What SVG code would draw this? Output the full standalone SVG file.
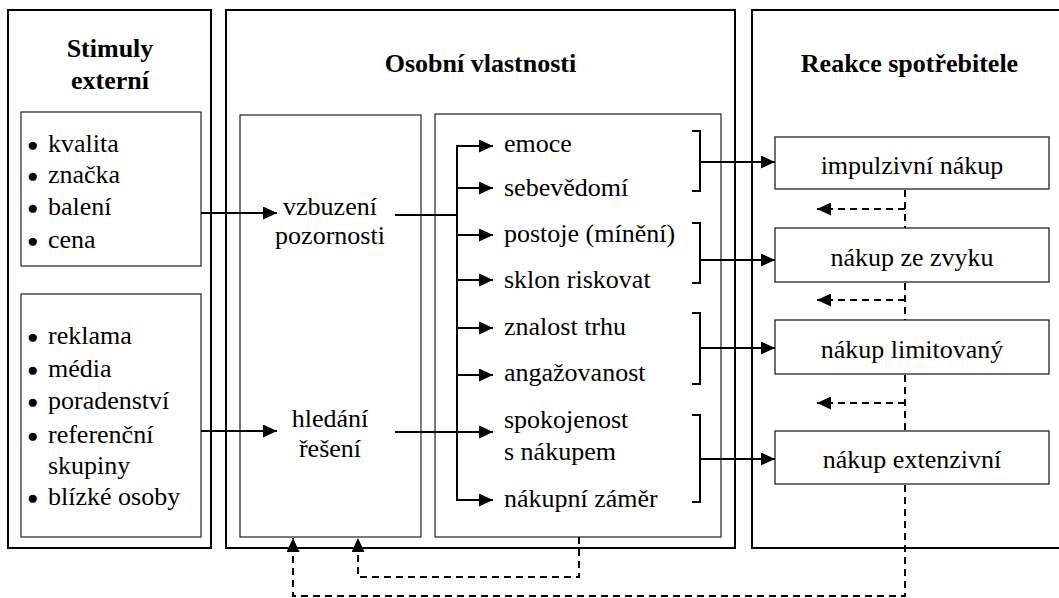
<svg xmlns="http://www.w3.org/2000/svg" width="1059" height="598" viewBox="0 0 1059 598">
  <style>
    text { font-family: 'Liberation Serif', 'Times New Roman', Tinos, 'Noto Serif', 'DejaVu Serif', serif; font-size: 26px; fill: #000; }
    .head { font-weight: bold; text-anchor: middle; }
    .mid { text-anchor: middle; }
    .bul { font-size: 19px; }
    .outer { fill: none; stroke: #000; stroke-width: 2; }
    .inner { fill: none; stroke: #222; stroke-width: 1.2; }
    .resp { fill: #fff; stroke: #222; stroke-width: 1.3; }
    .line { fill: none; stroke: #000; stroke-width: 2; }
    .arrow { fill: none; stroke: #000; stroke-width: 2; marker-end: url(#head); }
    .dash { fill: none; stroke: #000; stroke-width: 2; stroke-dasharray: 7 5; }
    .dash-arrow { fill: none; stroke: #000; stroke-width: 2; stroke-dasharray: 7 5; marker-end: url(#head); }
  </style>
  <defs>
    <marker id="head" markerUnits="userSpaceOnUse" markerWidth="14" markerHeight="13" refX="14" refY="6.5" orient="auto">
      <path d="M0,0 L14,6.5 L0,13 Z" fill="#000" stroke="none"/>
    </marker>
  </defs>
  <rect width="1059" height="598" fill="#fff"/>

  <!-- external stimuli column -->
  <g id="stimuli">
    <rect class="outer" x="8" y="10" width="203" height="538"/>
    <text class="head" x="110" y="57">Stimuly</text>
    <text class="head" x="110" y="89">externí</text>
  </g>
  <g id="stimuli-product">
    <rect class="inner" x="21" y="112" width="180" height="154"/>
    <text x="27" y="152"><tspan class="bul" dy="-1">●</tspan><tspan x="48" dy="1">kvalita</tspan></text>
    <text x="27" y="183"><tspan class="bul" dy="-1">●</tspan><tspan x="48" dy="1">značka</tspan></text>
    <text x="27" y="215"><tspan class="bul" dy="-1">●</tspan><tspan x="48" dy="1">balení</tspan></text>
    <text x="27" y="248"><tspan class="bul" dy="-1">●</tspan><tspan x="48" dy="1">cena</tspan></text>
  </g>
  <g id="stimuli-info">
    <rect class="inner" x="21" y="294" width="180" height="243"/>
    <text x="27" y="344"><tspan class="bul" dy="-1">●</tspan><tspan x="48" dy="1">reklama</tspan></text>
    <text x="27" y="377"><tspan class="bul" dy="-1">●</tspan><tspan x="48" dy="1">média</tspan></text>
    <text x="27" y="409"><tspan class="bul" dy="-1">●</tspan><tspan x="48" dy="1">poradenství</tspan></text>
    <text x="27" y="443"><tspan class="bul" dy="-1">●</tspan><tspan x="48" dy="1">referenční</tspan></text>
    <text x="48" y="474">skupiny</text>
    <text x="27" y="505"><tspan class="bul" dy="-1">●</tspan><tspan x="48" dy="1">blízké osoby</tspan></text>
  </g>

  <!-- personal traits column -->
  <g id="traits">
    <rect class="outer" x="226" y="10" width="509" height="538"/>
    <text class="head" x="480.5" y="72">Osobní vlastnosti</text>
  </g>
  <g id="stages">
    <rect class="inner" x="240" y="115" width="181" height="422"/>
    <text class="mid" x="330" y="215">vzbuzení</text>
    <text class="mid" x="330" y="244">pozornosti</text>
    <text class="mid" x="330" y="427">hledání</text>
    <text class="mid" x="330" y="457">řešení</text>
  </g>
  <g id="factors">
    <rect class="inner" x="435" y="114" width="286" height="423"/>
    <text x="504" y="152">emoce</text>
    <text x="504" y="196">sebevědomí</text>
    <text x="504" y="242">postoje (mínění)</text>
    <text x="504" y="288">sklon riskovat</text>
    <text x="504" y="335">znalost trhu</text>
    <text x="504" y="381">angažovanost</text>
    <text x="504" y="428">spokojenost</text>
    <text x="504" y="460">s nákupem</text>
    <text x="504" y="507">nákupní záměr</text>
  </g>

  <!-- consumer response column -->
  <g id="response">
    <rect class="outer" x="752" y="10" width="315" height="538"/>
    <text class="head" x="909.5" y="72">Reakce spotřebitele</text>
  </g>
  <g id="impulsive">
    <rect class="resp" x="775" y="137" width="274" height="52"/>
    <text class="mid" x="912" y="174">impulzivní nákup</text>
  </g>
  <g id="habitual">
    <rect class="resp" x="775" y="228" width="274" height="54"/>
    <text class="mid" x="912" y="266">nákup ze zvyku</text>
  </g>
  <g id="limited">
    <rect class="resp" x="775" y="320" width="274" height="54"/>
    <text class="mid" x="912" y="358">nákup limitovaný</text>
  </g>
  <g id="extensive">
    <rect class="resp" x="775" y="431" width="274" height="53"/>
    <text class="mid" x="912" y="468">nákup extenzivní</text>
  </g>

  <g id="connectors">
    <!-- stimuli into stages -->
    <path class="arrow" d="M201,213 H277"/>
    <path class="arrow" d="M201,431 H277"/>
    <!-- stages into the factor bus -->
    <path class="line" d="M395,215 H457"/>
    <path class="line" d="M395,432 H457"/>
    <path class="line" d="M457,145 V501"/>
    <path class="arrow" d="M456,146 H493"/>
    <path class="arrow" d="M457,188 H493"/>
    <path class="arrow" d="M457,235 H493"/>
    <path class="arrow" d="M457,280 H493"/>
    <path class="arrow" d="M457,328 H493"/>
    <path class="arrow" d="M457,375 H493"/>
    <path class="arrow" d="M457,432 H493"/>
    <path class="arrow" d="M456,500 H493"/>
    <!-- brackets grouping factors -->
    <path class="line" d="M692,131 H700 V191 H692"/>
    <path class="line" d="M692,223 H700 V283 H692"/>
    <path class="line" d="M692,313 H700 V384 H692"/>
    <path class="line" d="M692,415 H700 V502 H692"/>
    <path class="arrow" d="M700,162 H775"/>
    <path class="arrow" d="M700,260 H775"/>
    <path class="arrow" d="M700,348 H775"/>
    <path class="arrow" d="M700,459 H775"/>
    <!-- feedback between purchase types -->
    <path class="dash" d="M905,190 V228"/>
    <path class="dash" d="M905,283 V320"/>
    <path class="dash" d="M905,375 V431"/>
    <path class="dash-arrow" d="M905,209 H817"/>
    <path class="dash-arrow" d="M905,300 H817"/>
    <path class="dash-arrow" d="M905,403 H817"/>
    <!-- feedback loops back to the stages -->
    <path class="dash-arrow" d="M905,485 V596 H293 V538"/>
    <path class="dash-arrow" d="M579,537 V577 H358 V538"/>
  </g>
</svg>
